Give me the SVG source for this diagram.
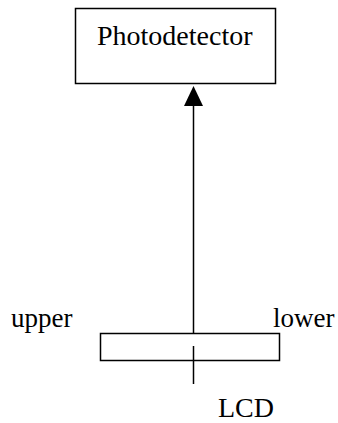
<svg xmlns="http://www.w3.org/2000/svg" width="338" height="423" viewBox="0 0 338 423">
<style>
.b{fill:#fff;stroke:#000;stroke-width:1.5}
.l{stroke:#000;stroke-width:1.5;fill:none}
.t{font-family:"Liberation Serif",serif;font-size:27px;fill:#000}
.t2{font-family:"Liberation Serif",serif;font-size:28px;fill:#000}
</style>
<rect width="338" height="423" fill="#fff"/>
<g id="photodetector">
<rect class="b" x="75.5" y="8.5" width="200" height="75"/>
<text class="t2" x="97" y="45">Photodetector</text>
</g>
<g id="lcd">
<rect class="b" x="100.5" y="333.5" width="179" height="27"/>
<line class="l" x1="193.5" y1="346" x2="193.5" y2="384"/>
<text class="t2" x="218" y="417">LCD</text>
</g>
<g id="labels">
<text class="t" x="11" y="327">upper</text>
<text class="t" x="273" y="327">lower</text>
</g>
<g id="connectors">
<line class="l" x1="193.5" y1="333.5" x2="193.5" y2="104"/>
<polygon points="193.5,86 184,106 203,106" fill="#000"/>
</g>
</svg>
